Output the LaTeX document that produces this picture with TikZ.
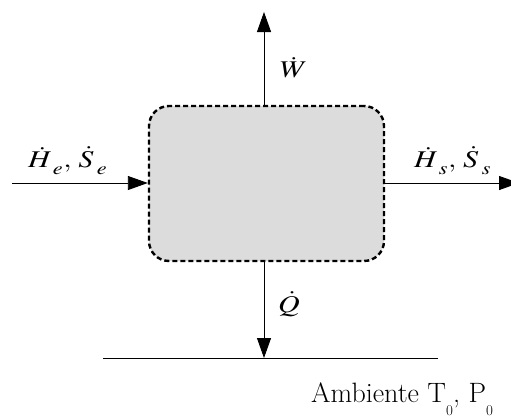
\documentclass[tikz,border=0pt]{standalone}
\usepackage{mathptmx}
\usetikzlibrary{arrows.meta}
\definecolor{boxgray}{HTML}{DCDCDC}
\newcommand{\lsub}[1]{_{\mkern3mu\raisebox{-4pt}{$\scriptstyle #1$}}}
\newcommand{\mlabel}[1]{\scalebox{1.25}[1]{\fontsize{24}{28}\selectfont$#1$}}
\newcommand{\tsub}[1]{\raisebox{-13pt}{\fontsize{15}{15}\selectfont #1}}
\tikzset{
  flow/.style={line width=0.9pt,-{Triangle[length=20pt,width=14pt]}},
  sysbox/.style={draw,fill=boxgray,line width=2.4pt,dash pattern=on 5pt off 3pt,rounded corners=20pt,minimum width=235pt,minimum height=155pt,inner sep=0pt},
  lbl/.style={inner sep=0pt,anchor=base west}
}
\begin{document}
\begin{tikzpicture}[x=1pt,y=-1pt]
\useasboundingbox (0,0) rectangle (511,415);
\node[sysbox] (sys) at (266.5,183.5) {};
\coordinate (inL) at (12,183);
\coordinate (outR) at (519,183);
\coordinate (topW) at (264,12);
\coordinate (botQ) at (264,358);
\coordinate (gL) at (103,358);
\coordinate (gR) at (438,358);
\draw[flow] (inL) -- (sys.west |- inL);
\draw[flow] (sys.east |- outR) -- (outR);
\draw[flow] (sys.north -| topW) -- (topW);
\draw[flow] (sys.south -| botQ) -- (botQ);
\draw[line width=0.9pt] (gL) -- (gR);
\node[lbl] (le) at (28,167) {\mlabel{\dot{H}\lsub{e},\mkern2mu\dot{S}\lsub{e}}};
\node[lbl] (ls) at (414,167) {\mlabel{\dot{H}\lsub{s},\mkern2mu\dot{S}\lsub{s}}};
\node[lbl] (lw) at (280,77) {\mlabel{\dot{W}}};
\node[lbl] (lq) at (278,312) {\mlabel{\dot{Q}}};
\node[lbl] (amb) at (311,402) {\fontfamily{lmr}\fontsize{28}{32}\selectfont Ambiente T\tsub{0}, P\tsub{0}};
\end{tikzpicture}
\end{document}
